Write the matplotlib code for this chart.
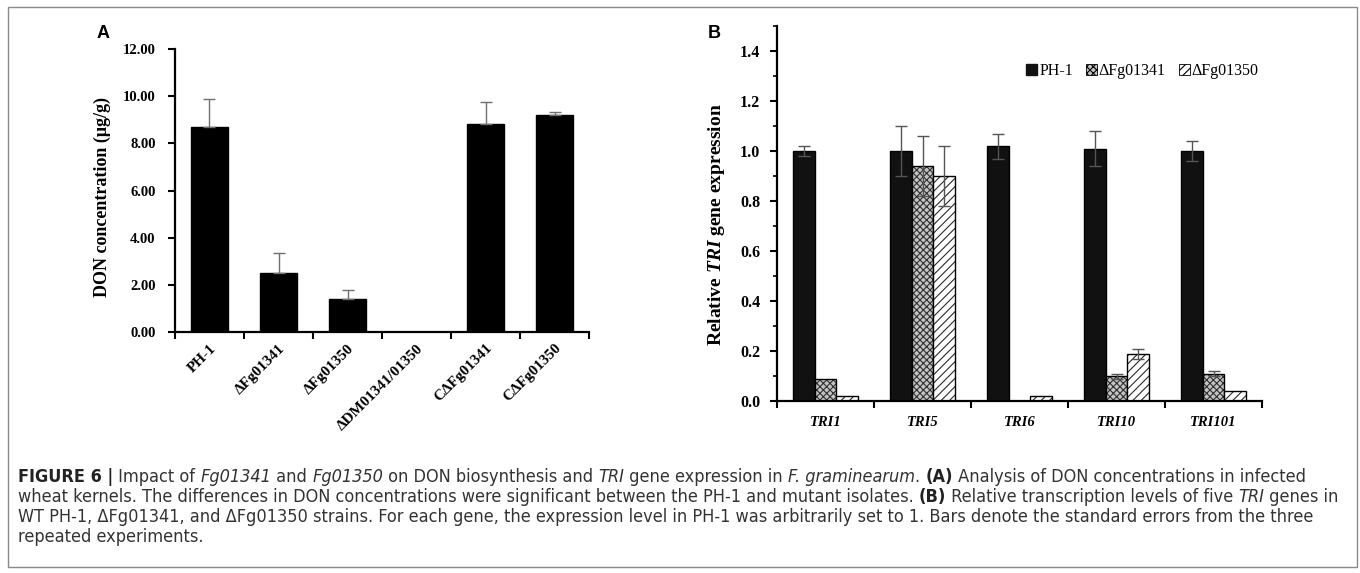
import numpy as np
import matplotlib
matplotlib.use('Agg')
import matplotlib.pyplot as plt
from matplotlib import font_manager as fm
from matplotlib.patches import Patch, Rectangle

# ---- data: panel A (DON concentration) ----
strains = ['PH-1', 'ΔFg01341', 'ΔFg01350', 'ΔDM01341/01350', 'CΔFg01341', 'CΔFg01350']
don = [8.71, 2.52, 1.40, 0.0, 8.80, 9.22]
don_err = [1.15, 0.82, 0.37, 0.0, 0.95, 0.10]

# ---- data: panel B (relative TRI expression) ----
genes = ['TRI1', 'TRI5', 'TRI6', 'TRI10', 'TRI101']
series = ['PH-1', 'ΔFg01341', 'ΔFg01350']
ph1 = [1.00, 1.00, 1.02, 1.01, 1.00]
ph1_err = [0.02, 0.10, 0.05, 0.07, 0.04]
d1341 = [0.09, 0.94, 0.0, 0.10, 0.11]
d1341_err = [0.0, 0.12, 0.0, 0.01, 0.01]
d1350 = [0.02, 0.90, 0.02, 0.19, 0.04]
d1350_err = [0.0, 0.12, 0.0, 0.02, 0.0]

# pick a narrow sans for the caption if one is installed
fonts = fm.fontManager.ttflist
names = {f.name for f in fonts}
cap_kw = dict(family='Liberation Sans')
if 'Liberation Sans Narrow' in names:
    cap_kw = dict(family='Liberation Sans Narrow')
elif any(f.name == 'DejaVu Sans' and f.stretch == 'condensed' for f in fonts):
    cap_kw = dict(family='DejaVu Sans', stretch='condensed')
serif = 'Liberation Serif'

plt.rcParams['mathtext.fontset'] = 'custom'
if 'mathtext.bfit' in plt.rcParams:
    plt.rcParams['mathtext.bfit'] = serif + ':italic:bold'
plt.rcParams['mathtext.it'] = serif + ':italic:bold'
plt.rcParams['hatch.linewidth'] = 0.8

W, H = 1360, 573
fig = plt.figure(figsize=(W / 100, H / 100), dpi=100)
renderer = fig.canvas.get_renderer()


def px_axes(l, t, r, b):
    return fig.add_axes([l / W, 1 - b / H, (r - l) / W, (b - t) / H])


# outer frame
fig.patches.append(Rectangle((8 / W, 6 / H), 1349 / W, 560 / H, transform=fig.transFigure,
                             fill=False, edgecolor='#8a8a8a', lw=1.0))

# ================= panel A =================
axA = px_axes(175, 49, 589, 332)
xa = np.arange(len(strains))
axA.bar(xa, don, width=0.55, color='black', edgecolor='black')
da = np.array(don)
ea = np.array(don_err)
m = ea > 0
axA.errorbar(xa[m], da[m], yerr=[np.zeros(m.sum()), ea[m]], fmt='none',
             ecolor='#707070', elinewidth=1, capsize=4, capthick=1)
axA.set_xlim(-0.5, len(strains) - 0.5)
axA.set_ylim(0, 12)
axA.set_yticks(np.arange(0, 12.1, 2))
axA.set_yticklabels(['%.2f' % v for v in np.arange(0, 12.1, 2)],
                    fontdict=dict(family=serif, weight='bold', size=10.5))
axA.set_xticks(np.arange(-0.5, len(strains)), labels=[])
axA.set_xticks(xa, minor=True)
axA.set_xticklabels(strains, minor=True, rotation=45, ha='right', va='top',
                    rotation_mode='anchor', fontdict=dict(family=serif, weight='bold', size=11))
axA.tick_params(axis='x', which='minor', length=0, pad=7)
axA.tick_params(axis='both', which='major', length=5, width=1.5)
axA.tick_params(axis='y', which='major', pad=9)
for s in ['top', 'right']:
    axA.spines[s].set_visible(False)
for s in ['left', 'bottom']:
    axA.spines[s].set_linewidth(1.6)
axA.set_ylabel('DON concentration (μg/g)', family=serif, weight='bold', size=13)
axA.yaxis.set_label_coords(-0.155, 0.477)
fig.text(97 / W, 1 - 34 / H, 'A', family='Liberation Sans', weight='bold', size=13,
         va='center', ha='left')

# ================= panel B =================
axB = px_axes(777, 26, 1262, 401)
xb = np.arange(len(genes))
bw = 0.222
styles = [dict(color='#111111', edgecolor='#111111', hatch=None),
          dict(color='#c4c4c4', edgecolor='#303030', hatch='xxxxx'),
          dict(color='white', edgecolor='#2a2a2a', hatch='////')]
vals = [ph1, d1341, d1350]
errs = [ph1_err, d1341_err, d1350_err]
for i, (v, e, st) in enumerate(zip(vals, errs, styles)):
    pos = xb + (i - 1) * bw
    v = np.array(v)
    e = np.array(e)
    axB.bar(pos, v, width=bw, color=st['color'], edgecolor=st['edgecolor'],
            hatch=st['hatch'], lw=0)
    axB.bar(pos, v, width=bw, fill=False, edgecolor='black', lw=1.0)
    mm = e > 0
    axB.errorbar(pos[mm], v[mm], yerr=e[mm], fmt='none', ecolor='#555555',
                 elinewidth=1, capsize=4, capthick=1)
axB.set_xlim(-0.5, len(genes) - 0.5)
axB.set_ylim(0, 1.5)
yt = np.arange(0, 1.41, 0.2)
axB.set_yticks(yt)
axB.set_yticklabels(['%.1f' % v for v in yt], fontdict=dict(family=serif, weight='bold', size=11.5))
axB.set_yticks(np.arange(0.1, 1.51, 0.2), minor=True)
axB.set_xticks(np.arange(-0.5, len(genes)), labels=[])
axB.set_xticks(xb, minor=True)
axB.set_xticklabels(genes, minor=True, fontdict=dict(family=serif, weight='bold',
                                                     style='italic', size=10.5))
axB.tick_params(axis='x', which='minor', length=0, pad=11)
axB.tick_params(axis='y', which='minor', length=3, width=1.2)
axB.tick_params(axis='both', which='major', length=5, width=1.5)
axB.tick_params(axis='y', which='major', pad=7)
for s in ['top', 'right']:
    axB.spines[s].set_visible(False)
for s in ['left', 'bottom']:
    axB.spines[s].set_linewidth(1.6)
tri = r'$\mathbfit{TRI}$' if 'mathtext.bfit' in plt.rcParams else r'$\mathit{TRI}$'
axB.set_ylabel('Relative ' + tri + ' gene expression', family=serif,
               weight='bold', size=14)
axB.yaxis.set_label_coords(-0.103, 0.47)
fig.text(708 / W, 1 - 34 / H, 'B', family='Liberation Sans', weight='bold', size=13,
         va='center', ha='left')

handles = [Patch(facecolor=st['color'], edgecolor='black', hatch=st['hatch'], lw=0.6)
           for st in styles]
handles[0] = Patch(facecolor='#111111', edgecolor='#111111')
fig.legend(handles, series, loc='center left', bbox_to_anchor=(1026 / W, 1 - 71 / H),
           bbox_transform=fig.transFigure, ncol=3, frameon=False,
           prop=dict(family=serif, size=11.5), handlelength=0.7, handleheight=0.7,
           handletextpad=0.12, columnspacing=0.8, borderpad=0, borderaxespad=0)

# ================= caption =================
R, B, I = 'r', 'b', 'i'
caption = [
    [('FIGURE 6 |', B), (' Impact of ', R), ('Fg01341', I), (' and ', R), ('Fg01350', I),
     (' on DON biosynthesis and ', R), ('TRI', I), (' gene expression in ', R),
     ('F. graminearum', I), ('. ', R), ('(A)', B),
     (' Analysis of DON concentrations in infected', R)],
    [('wheat kernels. The differences in DON concentrations were significant between the '
      'PH-1 and mutant isolates. ', R), ('(B)', B),
     (' Relative transcription levels of five ', R), ('TRI', I), (' genes in', R)],
    [('WT PH-1, ΔFg01341, and ΔFg01350 strains. For each gene, the expression level in '
      'PH-1 was arbitrarily set to 1. Bars denote the standard errors from the three', R)],
    [('repeated experiments.', R)],
]
line_y = [477, 497, 517, 537]


def seg_kw(style, size):
    kw = dict(cap_kw, size=size, color='#333333')
    if style == B:
        kw.update(weight='bold', color='#222222')
    elif style == I:
        kw.update(style='italic')
    return kw


def seg_width(text, style, size):
    # width including any leading/trailing spaces
    t1 = fig.text(0, 0, '|' + text + '|', **seg_kw(style, size))
    t2 = fig.text(0, 0, '||', **seg_kw(style, size))
    w = t1.get_window_extent(renderer).width - t2.get_window_extent(renderer).width
    t1.remove()
    t2.remove()
    return w


base = 10
w3 = sum(seg_width(t, s, base) for t, s in caption[2])
fs = base * 1297 / w3

for segs, y in zip(caption, line_y):
    x = 18.0
    for text, style in segs:
        fig.text(x / W, 1 - y / H, text, ha='left', va='center', **seg_kw(style, fs))
        x += seg_width(text, style, fs)

fig.savefig('out.png', dpi=100)
